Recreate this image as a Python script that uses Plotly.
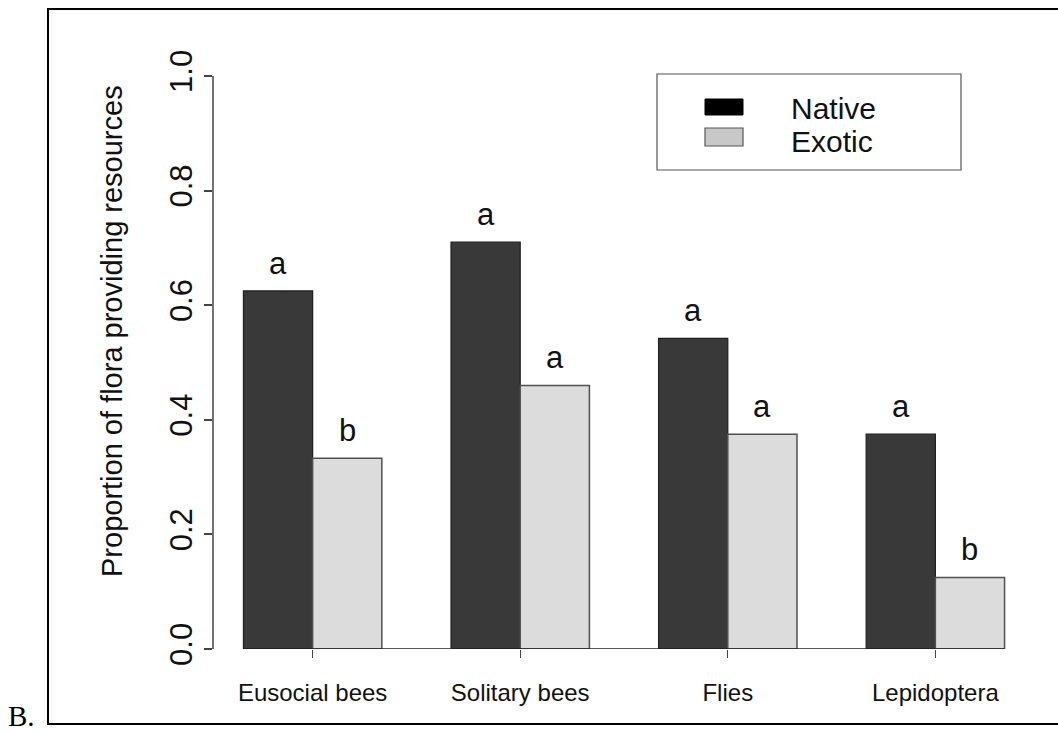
import plotly.graph_objects as go

# Pollinator groups and the proportion of flora providing resources
categories = ["Eusocial bees", "Solitary bees", "Flies", "Lepidoptera"]
native = [0.625, 0.71, 0.542, 0.375]
exotic = [0.333, 0.46, 0.375, 0.125]
native_letters = ["a", "a", "a", "a"]
exotic_letters = ["b", "a", "a", "b"]
y_ticks = [0.0, 0.2, 0.4, 0.6, 0.8, 1.0]

# Figure geometry (pixels)
W, H = 1058, 732
PL, PR, PT, PB = 213, 1035, 76, 649   # plot area edges
PW, PH = PR - PL, PB - PT


def px(x):
    return (x - PL) / PW


def py(y):
    return (PB - y) / PH


FONT = "Liberation Sans, Arial, sans-serif"
BARGAP = 1 / 3
XRANGE = [-0.48, len(categories) - 1 + 0.48]

fig = go.Figure()
fig.add_trace(go.Bar(
    x=categories, y=native, name="Native", offsetgroup="n",
    marker=dict(color="#393939", line=dict(color="#1e1e1e", width=1.2)),
    showlegend=False,
))
fig.add_trace(go.Bar(
    x=categories, y=exotic, name="Exotic", offsetgroup="e",
    marker=dict(color="#dcdcdc", line=dict(color="#505050", width=1.5)),
    showlegend=False,
))

annotations = []
# significance letters above each bar
half = (1 - BARGAP) / 4
for i, cat in enumerate(categories):
    for val, letter, off in ((native[i], native_letters[i], -half),
                             (exotic[i], exotic_letters[i], half)):
        annotations.append(dict(
            x=i + off, y=val, xref="x", yref="y", text=letter,
            showarrow=False, yanchor="bottom", yshift=8,
            font=dict(family=FONT, size=31, color="#111111"),
        ))

# y-axis title
annotations.append(dict(
    x=px(112), y=py(331), xref="paper", yref="paper",
    text="Proportion of flora providing resources", textangle=-90,
    showarrow=False, xanchor="center", yanchor="middle",
    font=dict(family=FONT, size=29, color="#111111"),
))

# legend text
for label, cy in (("Native", 108), ("Exotic", 141)):
    annotations.append(dict(
        x=px(789), y=py(cy), xref="paper", yref="paper", text=label,
        showarrow=False, xanchor="left", yanchor="middle",
        font=dict(family=FONT, size=30, color="#111111"),
    ))

# panel letter
annotations.append(dict(
    x=px(6), y=py(716), xref="paper", yref="paper", text="B.",
    showarrow=False, xanchor="left", yanchor="middle",
    font=dict(family="Liberation Serif, Times New Roman, serif", size=29, color="#000000"),
))

shapes = [
    # outer frame
    dict(type="rect", xref="paper", yref="paper",
         x0=px(48), x1=px(1064), y0=py(724), y1=py(9),
         line=dict(color="#000000", width=2), fillcolor="rgba(0,0,0,0)", layer="below"),
    # y axis line spanning the tick range
    dict(type="line", xref="paper", yref="y", x0=0, x1=0, y0=y_ticks[0], y1=y_ticks[-1],
         line=dict(color="#444444", width=1.5)),
    # baseline under the bars
    dict(type="line", xref="x", yref="y", x0=-2 * half, x1=len(categories) - 1 + 2 * half,
         y0=0, y1=0, line=dict(color="#222222", width=1.5)),
    # legend box
    dict(type="rect", xref="paper", yref="paper",
         x0=px(657), x1=px(961), y0=py(170), y1=py(74),
         line=dict(color="#555555", width=1.2), fillcolor="#ffffff"),
    # legend swatches
    dict(type="rect", xref="paper", yref="paper",
         x0=px(705), x1=px(743), y0=py(115), y1=py(99),
         line=dict(color="#000000", width=1), fillcolor="#000000"),
    dict(type="rect", xref="paper", yref="paper",
         x0=px(705), x1=px(743), y0=py(146), y1=py(128),
         line=dict(color="#555555", width=1.2), fillcolor="#c8c8c8"),
]

fig.update_layout(
    width=W, height=H,
    margin=dict(l=PL, r=W - PR, t=PT, b=H - PB),
    paper_bgcolor="#ffffff", plot_bgcolor="#ffffff",
    barmode="group", bargap=BARGAP, bargroupgap=0,
    annotations=annotations, shapes=shapes,
    showlegend=False,
)
fig.update_xaxes(
    range=XRANGE, showgrid=False, zeroline=False, showline=False,
    ticks="outside", ticklen=8, tickwidth=1.2, tickcolor="#444444",
    ticklabelstandoff=14,
    tickfont=dict(family=FONT, size=24, color="#111111"),
)
fig.update_yaxes(
    range=[0, 1], tickvals=y_ticks, ticktext=[f"{v:.1f}" for v in y_ticks],
    showgrid=False, zeroline=False, showline=False,
    ticks="outside", ticklen=8, tickwidth=1.5, tickcolor="#444444",
    tickangle=-90, tickfont=dict(family=FONT, size=31, color="#111111"),
)

fig.write_html("out.html")
